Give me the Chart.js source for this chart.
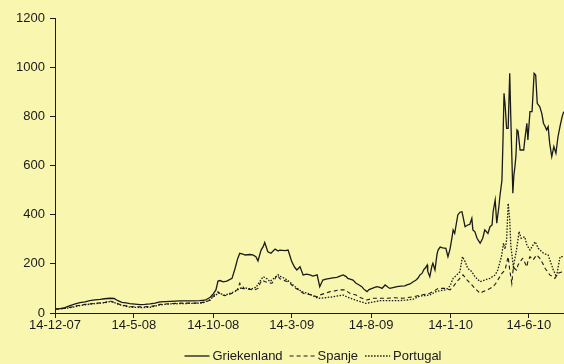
<!DOCTYPE html>
<html>
<head>
<meta charset="utf-8">
<script src="https://cdn.jsdelivr.net/npm/chart.js@4"></script>
<style>
  html, body { margin: 0; padding: 0; background: #f9f7af; overflow: hidden; }
  #wrap { width: 564px; height: 364px; overflow: hidden; }
  canvas { display: block; }
</style>
</head>
<body>
<div id="wrap"><canvas id="chart" width="626" height="364"></canvas></div>
<script>
// x values are days since 14-12-2007
const tickDays = [0, 152, 305, 456, 609, 762, 913];
const tickLabels = ['14-12-07', '14-5-08', '14-10-08', '14-3-09', '14-8-09', '14-1-10', '14-6-10'];

// Griekenland
const grDays = [
  0, 10, 19, 29, 39, 48, 58, 67, 77, 87,
  96, 106, 114, 121, 129, 137, 144, 154, 164, 173,
  183, 193, 202, 212, 222, 241, 260, 279, 289, 299,
  304, 310, 314, 318, 324, 331, 341, 347, 352, 356,
  362, 366, 376, 381, 387, 391, 397, 401, 404, 410,
  416, 424, 430, 433, 443, 449, 453, 456, 462, 466,
  472, 478, 485, 491, 497, 505, 510, 516, 522, 530,
  535, 543, 549, 555, 561, 564, 570, 574, 580, 586,
  591, 595, 601, 605, 611, 616, 620, 626, 630, 636,
  641, 645, 651, 659, 666, 674, 678, 684, 690, 695,
  699, 703, 707, 711, 713, 717, 718, 722, 726, 728,
  732, 736, 738, 742, 747, 753, 757, 761, 765, 767,
  770, 776, 780, 784, 786, 790, 795, 799, 803, 805,
  809, 813, 819, 824, 828, 834, 838, 842, 844, 848,
  851, 855, 857, 861, 863, 865, 867, 870, 873, 876,
  878, 882, 884, 886, 888, 890, 892, 896, 899, 903,
  905, 909, 911, 915, 919, 923, 926, 929, 934, 938,
  941, 944, 947, 950, 953, 957, 961, 965, 969, 973,
  977, 980
];
const grVals = [
  16, 18, 22, 30, 37, 42, 45, 50, 53, 55,
  58, 60, 59, 50, 43, 41, 38, 36, 34, 35,
  37, 40, 45, 46, 47, 49, 49, 50, 52, 64,
  75, 94, 130, 132, 127, 130, 141, 182, 222, 243,
  240, 236, 238, 236, 229, 212, 256, 270, 287, 249,
  243, 260, 252, 256, 254, 256, 230, 209, 185, 175,
  188, 155, 158, 155, 150, 155, 107, 134, 138, 141,
  143, 145, 150, 155, 148, 141, 137, 134, 121, 114,
  107, 97, 87, 95, 100, 104, 107, 104, 100, 114,
  106, 100, 103, 107, 109, 110, 114, 118, 127, 133,
  141, 155, 161, 178, 182, 195, 170, 148, 190, 202,
  175, 240, 256, 268, 265, 263, 229, 260, 310, 338,
  324, 399, 410, 412, 392, 351, 358, 360, 385, 338,
  330, 304, 284, 304, 338, 324, 351, 358, 412, 460,
  365, 430, 473, 540, 700, 894, 850, 751, 751, 975,
  800, 487, 560, 595, 640, 745, 740, 663, 663, 663,
  704, 772, 704, 819, 819, 975, 968, 853, 839, 810,
  772, 760, 745, 758, 690, 636, 677, 650, 717, 760,
  799, 819
];

// Spanje
const esDays = [
  0, 10, 19, 29, 39, 48, 58, 67, 77, 87,
  96, 102, 106, 112, 119, 125, 135, 144, 164, 183,
  193, 202, 222, 241, 260, 279, 289, 299, 304, 310,
  314, 320, 327, 335, 341, 347, 351, 356, 360, 368,
  376, 385, 391, 395, 399, 404, 408, 418, 424, 428,
  433, 439, 447, 453, 460, 466, 472, 478, 487, 497,
  505, 510, 520, 530, 539, 549, 559, 568, 580, 589,
  601, 613, 626, 639, 655, 670, 680, 690, 703, 713,
  722, 732, 738, 745, 753, 761, 767, 774, 780, 786,
  794, 803, 809, 815, 819, 824, 832, 838, 844, 849,
  853, 861, 867, 870, 873, 876, 880, 883, 886, 889,
  892, 896, 901, 905, 909, 911, 915, 921, 928, 934,
  940, 944, 950, 953, 959, 963, 969, 973, 980
];
const esVals = [
  16, 17, 19, 23, 28, 32, 35, 37, 39, 41,
  43, 48, 49, 45, 40, 35, 30, 26, 25, 26,
  30, 35, 38, 40, 40, 41, 45, 52, 66, 80,
  87, 75, 70, 75, 80, 90, 94, 121, 100, 98,
  96, 94, 100, 120, 134, 128, 125, 121, 140, 155,
  140, 134, 128, 121, 105, 98, 90, 80, 76, 73,
  65, 73, 80, 87, 90, 94, 94, 80, 73, 62,
  53, 60, 60, 60, 62, 60, 63, 66, 72, 76,
  80, 92, 100, 100, 100, 94, 107, 127, 141, 155,
  134, 114, 100, 88, 80, 86, 94, 100, 107, 120,
  134, 161, 175, 202, 229, 175, 121, 188, 180, 175,
  195, 209, 222, 205, 188, 210, 229, 216, 236, 222,
  200, 182, 165, 155, 148, 141, 161, 165, 168
];

// Portugal
const ptDays = [
  0, 10, 19, 29, 39, 48, 58, 67, 77, 87,
  96, 106, 112, 119, 125, 135, 144, 164, 183, 193,
  202, 222, 241, 260, 279, 289, 299, 304, 310, 314,
  320, 327, 337, 347, 356, 362, 370, 379, 387, 395,
  401, 408, 414, 424, 430, 433, 443, 453, 462, 472,
  478, 487, 497, 505, 510, 520, 535, 545, 555, 564,
  574, 587, 599, 613, 626, 645, 659, 674, 690, 703,
  713, 722, 734, 745, 753, 761, 767, 774, 780, 785,
  790, 795, 803, 809, 819, 828, 838, 848, 853, 860,
  864, 867, 870, 873, 876, 878, 883, 889, 894, 898,
  905, 909, 915, 925, 931, 941, 950, 960, 966, 973,
  980
];
const ptVals = [
  16, 17, 19, 22, 26, 30, 33, 36, 38, 40,
  42, 46, 44, 38, 33, 28, 24, 22, 23, 28,
  33, 37, 38, 39, 40, 44, 55, 65, 72, 82,
  78, 72, 80, 88, 100, 105, 100, 98, 104, 130,
  148, 140, 128, 145, 155, 150, 140, 125, 108, 92,
  85, 80, 70, 62, 60, 62, 66, 70, 73, 64,
  56, 47, 39, 45, 50, 50, 50, 52, 56, 69,
  71, 73, 87, 92, 94, 110, 141, 155, 168, 229,
  209, 182, 168, 148, 127, 134, 141, 155, 175, 229,
  284, 260, 297, 446, 380, 277, 188, 256, 331, 304,
  310, 277, 256, 290, 263, 243, 236, 175, 148, 229,
  229
];

const toPoints = (days, vals) => days.map((d, i) => ({ x: d, y: vals[i] }));

Chart.defaults.font.family = '"Liberation Sans", Arial, sans-serif';
Chart.defaults.font.size = 13;
Chart.defaults.color = '#1a1a1a';

// legend drawn by hand so the dash patterns show
const lineLegend = {
  id: 'lineLegend',
  afterDraw(chart) {
    const ctx = chart.ctx;
    const lineLen = 25, gap = 3, itemGap = 7;
    ctx.save();
    ctx.font = '13px "Liberation Sans", Arial, sans-serif';
    ctx.textBaseline = 'middle';
    ctx.fillStyle = '#1a1a1a';
    const sets = chart.data.datasets;
    const total = sets.reduce((s, d) => s + lineLen + gap + ctx.measureText(d.label).width, 0) + itemGap * (sets.length - 1);
    let x = 313 - total / 2;
    const y = 356;
    sets.forEach(d => {
      ctx.beginPath();
      ctx.setLineDash(d.borderDash || []);
      ctx.lineWidth = d.borderWidth;
      ctx.strokeStyle = d.borderColor;
      ctx.moveTo(x, y);
      ctx.lineTo(x + lineLen, y);
      ctx.stroke();
      x += lineLen + gap;
      ctx.fillText(d.label, x, y);
      x += ctx.measureText(d.label).width + itemGap;
    });
    ctx.restore();
  }
};

new Chart(document.getElementById('chart'), {
  type: 'line',
  data: {
    datasets: [
      {
        label: 'Griekenland',
        data: toPoints(grDays, grVals),
        borderColor: '#1a1a1a',
        borderWidth: 1.3
      },
      {
        label: 'Spanje',
        data: toPoints(esDays, esVals),
        borderColor: '#1a1a1a',
        borderWidth: 1.1,
        borderDash: [4, 3]
      },
      {
        label: 'Portugal',
        data: toPoints(ptDays, ptVals),
        borderColor: '#1a1a1a',
        borderWidth: 1.3,
        borderDash: [1.5, 1.5]
      }
    ]
  },
  options: {
    responsive: false,
    animation: false,
    layout: { padding: { top: 18, right: 0, bottom: 25, left: 0 } },
    elements: {
      point: { radius: 0 },
      line: { tension: 0, fill: false }
    },
    scales: {
      x: {
        type: 'linear',
        min: 0,
        max: 1100,
        afterBuildTicks: s => { s.ticks = tickDays.map(v => ({ value: v })); },
        afterFit: s => { s.height = 26; },
        ticks: {
          autoSkip: false,
          maxRotation: 0,
          padding: 0,
          callback: (v, i) => tickLabels[i]
        },
        grid: { drawOnChartArea: false, drawTicks: true, tickLength: 5, color: '#1a1a1a' },
        border: { display: true, color: '#1a1a1a', width: 1 }
      },
      y: {
        min: 0,
        max: 1200,
        afterFit: s => { s.width = 55; },
        ticks: { stepSize: 200, padding: 5, callback: v => String(v) },
        grid: { drawOnChartArea: false, drawTicks: true, tickLength: 5, color: '#1a1a1a' },
        border: { display: true, color: '#1a1a1a', width: 1 }
      }
    },
    plugins: {
      tooltip: { enabled: false },
      legend: { display: false }
    }
  },
  plugins: [lineLegend]
});
</script>
</body>
</html>
